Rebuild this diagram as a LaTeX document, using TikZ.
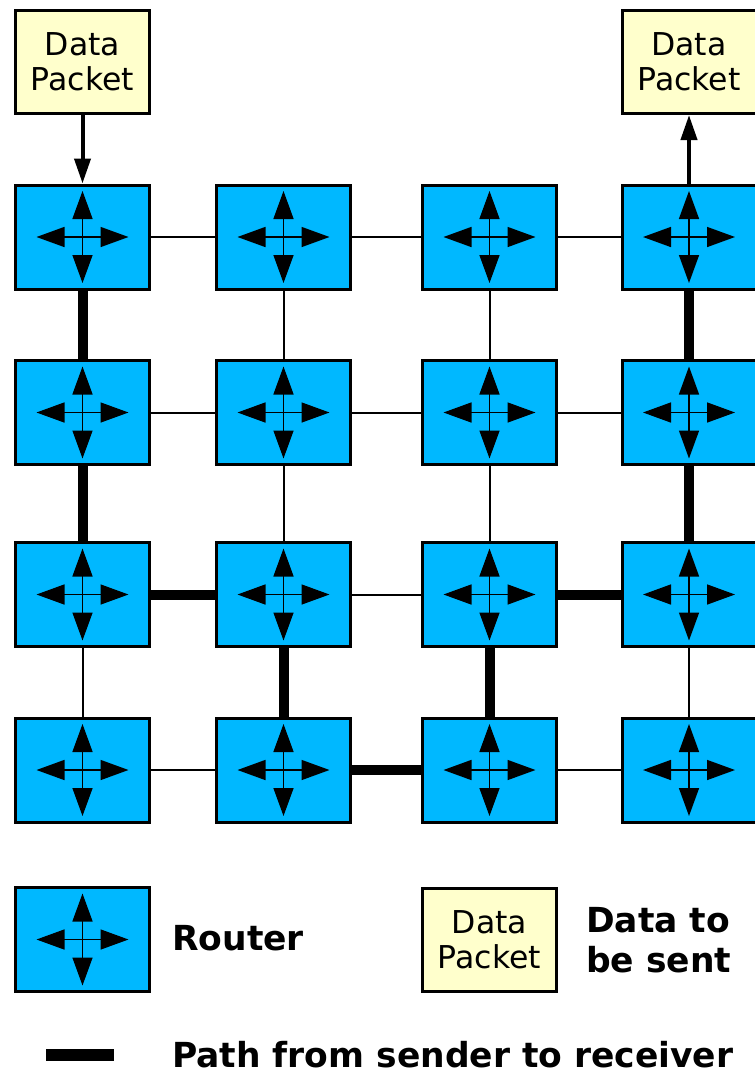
\documentclass[tikz,border=0pt]{standalone}
\usepackage{fontspec}
\setmainfont{DejaVu Sans}
\usetikzlibrary{arrows.meta}
\definecolor{routerblue}{RGB}{0,184,255}
\definecolor{packetyellow}{RGB}{255,255,204}
\tikzset{
  router/.style={draw, fill=routerblue, line width=3pt, minimum width=134pt, minimum height=104pt, inner sep=0pt},
  packet/.style={draw, fill=packetyellow, line width=3pt, minimum width=134pt, minimum height=103pt,
    align=center, inner sep=0pt, font=\fontsize{31.5}{35}\selectfont},
  link/.style={line width=2pt},
  route/.style={line width=10pt},
  feed/.style={line width=4pt, -{Triangle[length=25pt,width=16pt]}},
  icon/.style={line width=1.5pt, {Triangle[length=28pt,width=20pt]}-{Triangle[length=28pt,width=20pt]}},
  legendtext/.style={anchor=west, align=left, inner sep=0pt, font=\bfseries\fontsize{34.5}{40}\selectfont}
}
% arrow cross drawn inside a router box
\newcommand{\routericon}[1]{%
  \draw[icon] ([xshift=-46pt]#1.center) -- ([xshift=46pt]#1.center);
  \draw[icon] ([yshift=46pt]#1.center) -- ([yshift=-46pt]#1.center);
}
\begin{document}
\begin{tikzpicture}[x=1pt,y=-1pt]
\useasboundingbox (0,0) rectangle (755,1077);
% the mesh of routers
\foreach \c/\x in {1/82.5,2/283.5,3/489.5,4/689}{
  \foreach \r/\y in {1/237,2/412.5,3/594.5,4/770}{
    \node[router] (r\r\c) at (\x,\y) {};
    \routericon{r\r\c}
  }
}
\foreach \a/\b in {r11/r12,r12/r13,r13/r14,r21/r22,r22/r23,r23/r24,r32/r33,r41/r42,r43/r44,
                   r12/r22,r22/r32,r13/r23,r23/r33,r31/r41,r34/r44}
  \draw[link] (\a) -- (\b);
% path taken by the packet
\foreach \a/\b in {r11/r21,r21/r31,r31/r32,r32/r42,r42/r43,r43/r33,r33/r34,r34/r24,r24/r14}
  \draw[route] (\a) -- (\b);
\node[packet] (src) at (82.5,62) {Data\\Packet};
\node[packet] (dst) at (689,62) {Data\\Packet};
\draw[feed] (src) -- (r11);
\draw[feed] (r14) -- (dst);
% legend
\node[router] (keyrouter) at (82.5,939.5) {};
\routericon{keyrouter}
\node[legendtext] (keyroutertext) at (172,938) {Router};
\node[packet] (keypacket) at (489.5,939.5) {Data\\Packet};
\node[legendtext] (keypackettext) at (586,940) {Data to\\be sent};
\coordinate (keyA) at (46,1055);
\coordinate (keyB) at (114,1055);
\draw[line width=12pt] (keyA) -- (keyB);
\node[legendtext] (keypath) at (172,1055) {Path from sender to receiver};
\end{tikzpicture}
\end{document}
